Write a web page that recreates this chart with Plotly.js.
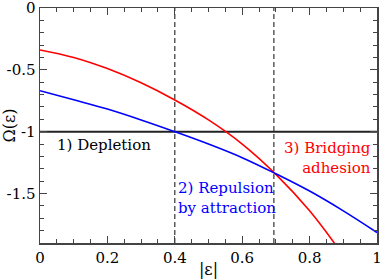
<!DOCTYPE html>
<html><head><meta charset="utf-8">
<script src="https://cdn.plot.ly/plotly-3.0.1.min.js"></script>
<style>html,body{margin:0;padding:0;background:#fff}#plot{width:382px;height:279px}</style>
</head><body><div id="plot"></div>
<script>
const epsRed = [0, 0.1, 0.2, 0.3, 0.4, 0.5, 0.6, 0.7, 0.8, 0.9];
const omegaRed = [-0.339, -0.40, -0.49, -0.605, -0.744, -0.905, -1.10, -1.345, -1.64, -2.0];
const epsBlue = [0, 0.1, 0.2, 0.3, 0.4, 0.5, 0.6, 0.7, 0.8, 0.9, 1.0];
const omegaBlue = [-0.669, -0.742, -0.817, -0.905, -1.0, -1.1, -1.21, -1.34, -1.48, -1.64, -1.815];
const depletionLevel = -1;
const boundaries = [0.4, 0.694];
const xTickVals = [0, 0.2, 0.4, 0.6, 0.8, 1];
const xTickText = ['0', '0.2', '0.4', '0.6', '0.8', '1'];
const yTickVals = [0, -0.5, -1, -1.5];
const yTickText = ['0', '-0.5', '-1', '-1.5'];

const FAM = 'DejaVu Serif';
function f(size, color) { return {family: FAM, size: size, color: color || '#000'}; }

const traces = [
  {x: [0, 1], y: [depletionLevel, depletionLevel], mode: 'lines', line: {color: '#222', width: 2}},
  {x: [boundaries[0], boundaries[0]], y: [-1.9, 0], mode: 'lines', line: {color: '#333', width: 1.2, dash: '5px,3px'}},
  {x: [boundaries[1], boundaries[1]], y: [-1.9, 0], mode: 'lines', line: {color: '#333', width: 1.2, dash: '5px,3px'}},
  {x: epsRed, y: omegaRed, mode: 'lines', line: {color: '#ff0000', width: 1.6, shape: 'spline'}},
  {x: epsBlue, y: omegaBlue, mode: 'lines', line: {color: '#0000ff', width: 1.6, shape: 'spline'}}
];
const axisCommon = {
  showgrid: false, zeroline: false, showline: true, linecolor: '#444', linewidth: 1.5,
  mirror: 'allticks', ticks: 'inside', ticklen: 7, tickcolor: '#444', tickwidth: 1,
  tickfont: f(15), ticklabeloverflow: 'allow'
};
const layout = {
  width: 382, height: 279,
  font: f(15),
  margin: {l: 40, r: 5, t: 8, b: 36},
  paper_bgcolor: '#fff', plot_bgcolor: '#fff',
  showlegend: false,
  xaxis: Object.assign({}, axisCommon, {
    range: [0, 1], tickmode: 'array', tickvals: xTickVals, ticktext: xTickText,
    minor: {dtick: 0.05, ticks: 'inside', ticklen: 4, tickcolor: '#444', showgrid: false},
    title: {text: '|ε|', font: f(16), standoff: 2}
  }),
  yaxis: Object.assign({}, axisCommon, {
    range: [-1.9, 0], tickmode: 'array', tickvals: yTickVals, ticktext: yTickText,
    minor: {dtick: 0.1, ticks: 'inside', ticklen: 4, tickcolor: '#444', showgrid: false},
    title: {text: 'Ω(ε)', font: f(16), standoff: 4}
  }),
  annotations: [
    {x: 0.045, y: -1.11, xref: 'x', yref: 'y', xanchor: 'left', yanchor: 'middle', text: '1) Depletion', showarrow: false, font: f(15)},
    {x: 0.405, y: -1.535, xref: 'x', yref: 'y', xanchor: 'left', yanchor: 'middle', align: 'left', text: '2) Repulsion<br>by attraction', showarrow: false, font: f(15, '#0000ff')},
    {x: 0.988, y: -1.21, xref: 'x', yref: 'y', xanchor: 'right', yanchor: 'middle', align: 'right', text: '3) Bridging<br>adhesion', showarrow: false, font: f(15, '#ff0000')}
  ]
};
Plotly.newPlot('plot', traces, layout, {staticPlot: true, displayModeBar: false});
</script></body></html>
